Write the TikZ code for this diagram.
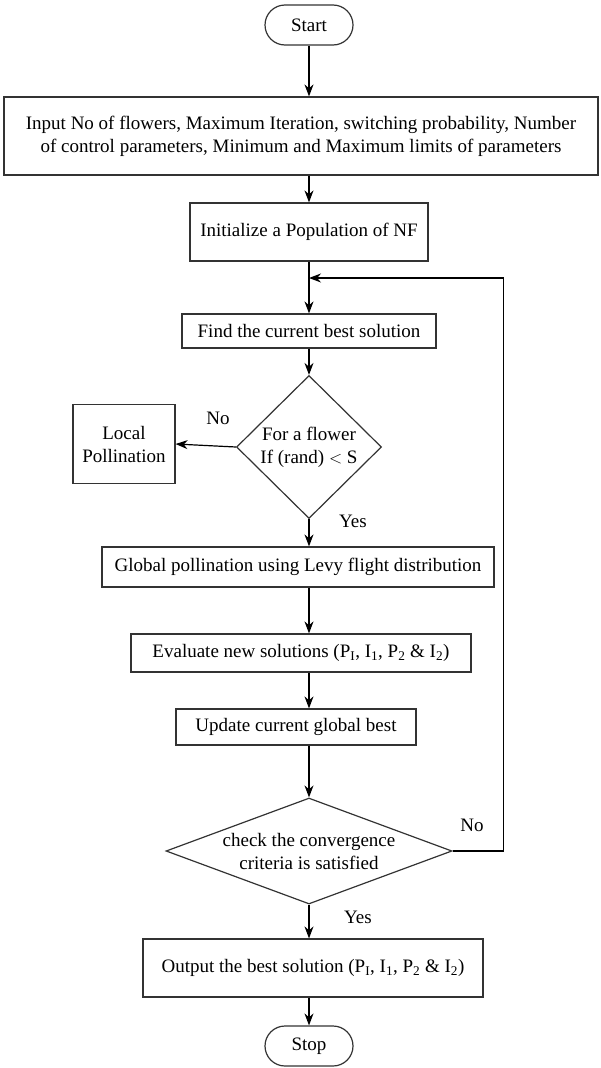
\documentclass[tikz,border=0pt]{standalone}
\usepackage{fontspec}
\setmainfont{Liberation Serif}
\usetikzlibrary{shapes.geometric, arrows.meta}

\tikzset{
  box/.style={draw=black!80, rectangle, inner sep=2pt, align=center},
  term/.style={draw=black!80, rectangle, rounded corners=20pt, minimum width=88pt, minimum height=40pt},
  decide/.style={draw=black!80, diamond, inner sep=0pt, align=center},
  lbl/.style={inner sep=0pt}
}

\begin{document}
\begin{tikzpicture}[x=1pt, y=-1pt, >={Stealth[length=12pt,width=9pt]}, line width=1.2pt,
  font=\fontsize{19}{23}\selectfont]

\useasboundingbox (0,0) rectangle (601,1068);

% main axis of the chart
\def\mx{309}

% --- Terminals and process boxes ---
\node[term] (start) at (\mx,25) {Start};
\node[box, minimum width=594pt, minimum height=78pt] (input) at (301,136)
  {Input No of flowers, Maximum Iteration, switching probability, Number\\
   of control parameters, Minimum and Maximum limits of parameters};
\node[box, minimum width=238pt, minimum height=58pt] (init) at (\mx,232) {Initialize a Population of NF};
\node[box, minimum width=254pt, minimum height=34pt] (find) at (\mx,331) {Find the current best solution};

% --- First decision ---
\node[decide, minimum width=145pt, minimum height=143pt] (dec1) at (\mx,447) {For a flower\\If (rand) $<$ S};
\node[box, minimum width=102pt, minimum height=79pt] (local) at (124,444) {Local\\Pollination};

\node[box, minimum width=392pt, minimum height=40pt] (global) at (298,567) {Global pollination using Levy flight distribution};
\node[box, minimum width=340pt, minimum height=38pt] (eval) at (301,653)
  {Evaluate new solutions (P\textsubscript{I}, I\textsubscript{1}, P\textsubscript{2} \& I\textsubscript{2})};
\node[box, minimum width=240pt, minimum height=36pt] (update) at (296,727) {Update current global best};

% --- Convergence check ---
\node[decide, aspect=2.7, minimum width=286pt, minimum height=106pt] (dec2) at (\mx,851)
  {check the convergence\\criteria is satisfied};
\node[box, minimum width=340pt, minimum height=58pt] (output) at (313,968)
  {Output the best solution (P\textsubscript{I}, I\textsubscript{1}, P\textsubscript{2} \& I\textsubscript{2})};
\node[term] (stop) at (\mx,1046) {Stop};

% --- Branch labels ---
\node[lbl] (no1) at (218,418) {No};
\node[lbl] (yes1) at (353,521) {Yes};
\node[lbl] (no2) at (472,825) {No};
\node[lbl] (yes2) at (358,917) {Yes};

% --- Connectors ---
\foreach \a/\b in {start/input, input/init, init/find, find/dec1, dec1/global,
                   global/eval, eval/update, update/dec2, dec2/output, output/stop} {
  \draw[->] (\a.south -| start) -- (\b.north -| start);
}
\draw[->] (dec1.west) -- (local.east);

% loop back above the best-solution box
\coordinate (join) at (\mx,278);
\draw[->] (dec2.east) -- ++(51,0) |- (join);

\end{tikzpicture}
\end{document}
